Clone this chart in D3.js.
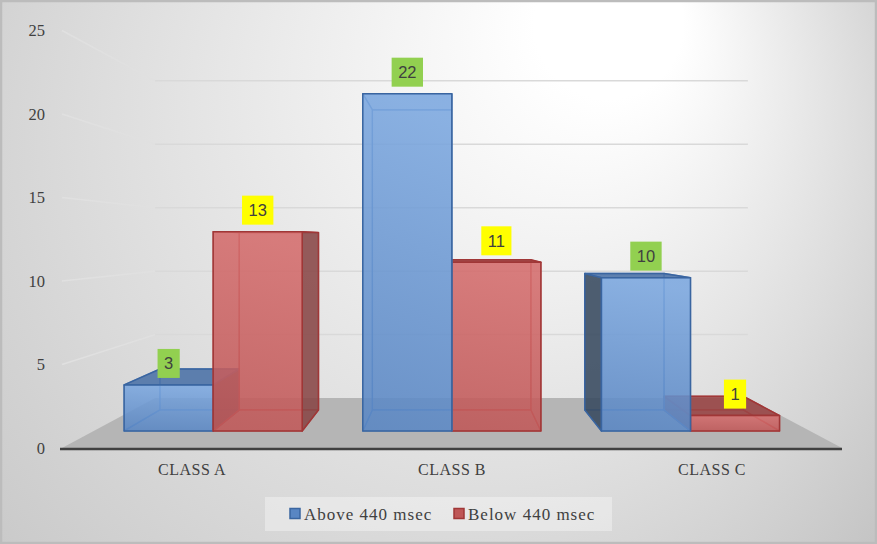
<!DOCTYPE html>
<html>
<head>
<meta charset="utf-8">
<script src="https://cdn.jsdelivr.net/npm/d3@7"></script>
<style>
  body { margin: 0; padding: 0; overflow: hidden; }
  #chart svg { display: block; }
</style>
</head>
<body>
<div id="chart"></div>
<script>
// chart data
const categories = ["CLASS A", "CLASS B", "CLASS C"];
const seriesNames = ["Above 440 msec", "Below 440 msec"];
const aboveValues = [3, 22, 10];
const belowValues = [13, 11, 1];
const yTicks = [0, 5, 10, 15, 20, 25];

const width = 877, height = 544;

// 3d look: vanishing point + depth factor
const VX = 450, VY = 240, K = 0.316;
const Z_FRONT = 0.283, Z_BACK = 0.709, Z_WALL = 1;

const project = (x, y, z) => {
  const s = 1 / (1 + K * z);
  return [VX + (x - VX) * s, VY + (y - VY) * s];
};

const svg = d3.select("#chart").append("svg")
  .attr("width", width)
  .attr("height", height);

const defs = svg.append("defs");

// background gradient
const bg = defs.append("radialGradient")
  .attr("id", "bgGrad")
  .attr("gradientUnits", "userSpaceOnUse")
  .attr("cx", 380).attr("cy", 200).attr("r", 620)
  .attr("fx", 640).attr("fy", 0);
bg.append("stop").attr("offset", 0).attr("stop-color", "#ffffff");
bg.append("stop").attr("offset", 0.12).attr("stop-color", "#ffffff");
bg.append("stop").attr("offset", 1).attr("stop-color", "#c2c2c2");

const colors = {
  [seriesNames[0]]: {front: ["#7ba7df", "#5986c3"], top: "#4a71a6", side: "#37495f", stroke: "#3a65a0", inner: "#4b7bbb", label: "#92d050"},
  [seriesNames[1]]: {front: ["#d46c6c", "#bf5757"], top: "#984343", side: "#884545", stroke: "#a03737", inner: "#b64545", label: "#ffff00"}
};

seriesNames.forEach((s, i) => {
  const g = defs.append("linearGradient")
    .attr("id", "front" + i)
    .attr("x1", 0.2).attr("y1", 0).attr("x2", 0.1).attr("y2", 1);
  g.append("stop").attr("offset", 0).attr("stop-color", colors[s].front[0]);
  g.append("stop").attr("offset", 1).attr("stop-color", colors[s].front[1]);
});

svg.append("rect")
  .attr("x", 0).attr("y", 0)
  .attr("width", width).attr("height", height)
  .attr("fill", "url(#bgGrad)");

// scales (front plane of the floor)
const x0 = d3.scaleBand()
  .domain(categories)
  .range([62, 842]);

const x1 = d3.scaleBand()
  .domain(seriesNames)
  .range([0, x0.bandwidth()])
  .paddingOuter(0.34);

const yScale = d3.scaleLinear()
  .domain([0, 25])
  .range([448, 30.5]);

const xLeft = x0.range()[0], xRight = x0.range()[1];
const yBase = yScale(0);

// floor
const floorPts = [
  project(xLeft, yBase, 0), project(xRight, yBase, 0),
  project(xRight, yBase, Z_WALL), project(xLeft, yBase, Z_WALL)
];
svg.append("polygon")
  .attr("points", floorPts.map(p => p.join(",")).join(" "))
  .attr("fill", "#b5b5b5");

// gridlines on side wall and back wall
const grid = svg.append("g");
yTicks.filter(v => v > 0).forEach(v => {
  const y = yScale(v);
  const a = project(xLeft, y, 0), b = project(xLeft, y, Z_WALL), c = project(xRight, y, Z_WALL);
  grid.append("line")
    .attr("x1", a[0]).attr("y1", a[1]).attr("x2", b[0]).attr("y2", b[1])
    .attr("stroke", "#e0e0e0").attr("stroke-width", 1.5);
  grid.append("line")
    .attr("x1", b[0]).attr("y1", b[1]).attr("x2", c[0]).attr("y2", c[1])
    .attr("stroke", "#d9d9d9").attr("stroke-width", 1.5);
});

// axis line
svg.append("line")
  .attr("x1", 60).attr("y1", yBase + 1)
  .attr("x2", xRight).attr("y2", yBase + 1)
  .attr("stroke", "#404040").attr("stroke-width", 2.5);

// build the bars
const bars = [];
categories.forEach((c, i) => {
  [aboveValues[i], belowValues[i]].forEach((v, j) => {
    const s = seriesNames[j];
    const xl = x0(c) + x1(s), xr = xl + x1.bandwidth();
    bars.push({cat: c, series: s, idx: j, value: v, xl: xl, xr: xr, yt: yScale(v), yb: yBase});
  });
});

// paint the bars farthest from the centre first
bars.sort((a, b) => Math.abs((b.xl + b.xr) / 2 - VX) - Math.abs((a.xl + a.xr) / 2 - VX));

const pts = arr => arr.map(p => p.join(",")).join(" ");

const barLayer = svg.append("g");
bars.forEach(d => {
  const col = colors[d.series];
  const P = (x, y, z) => project(x, y, z);
  const faces = {
    front: [P(d.xl, d.yt, Z_FRONT), P(d.xr, d.yt, Z_FRONT), P(d.xr, d.yb, Z_FRONT), P(d.xl, d.yb, Z_FRONT)],
    back: [P(d.xl, d.yt, Z_BACK), P(d.xr, d.yt, Z_BACK), P(d.xr, d.yb, Z_BACK), P(d.xl, d.yb, Z_BACK)],
    top: [P(d.xl, d.yt, Z_FRONT), P(d.xr, d.yt, Z_FRONT), P(d.xr, d.yt, Z_BACK), P(d.xl, d.yt, Z_BACK)],
    bottom: [P(d.xl, d.yb, Z_FRONT), P(d.xr, d.yb, Z_FRONT), P(d.xr, d.yb, Z_BACK), P(d.xl, d.yb, Z_BACK)],
    left: [P(d.xl, d.yt, Z_FRONT), P(d.xl, d.yt, Z_BACK), P(d.xl, d.yb, Z_BACK), P(d.xl, d.yb, Z_FRONT)],
    right: [P(d.xr, d.yt, Z_FRONT), P(d.xr, d.yt, Z_BACK), P(d.xr, d.yb, Z_BACK), P(d.xr, d.yb, Z_FRONT)]
  };
  const topVisible = d.yt > VY;
  const leftVisible = d.xl > VX;
  const rightVisible = d.xr < VX;

  const g = barLayer.append("g");

  // hidden edges, seen through the transparent faces
  const hidden = ["back", "bottom"];
  if (!topVisible) hidden.push("top");
  if (!leftVisible) hidden.push("left");
  if (!rightVisible) hidden.push("right");
  hidden.forEach(f => {
    g.append("polygon")
      .attr("points", pts(faces[f]))
      .attr("fill", "none")
      .attr("stroke", col.inner)
      .attr("stroke-opacity", 0.8)
      .attr("stroke-width", 1.3)
      .attr("stroke-linejoin", "round");
  });

  const visible = [];
  if (leftVisible) visible.push(["left", col.side]);
  if (rightVisible) visible.push(["right", col.side]);
  if (topVisible) visible.push(["top", col.top]);
  visible.push(["front", "url(#front" + d.idx + ")"]);
  visible.forEach(([f, fill]) => {
    g.append("polygon")
      .attr("points", pts(faces[f]))
      .attr("fill", fill)
      .attr("fill-opacity", 0.88)
      .attr("stroke", col.stroke)
      .attr("stroke-width", 1.5)
      .attr("stroke-linejoin", "round");
  });
  d.labelX = (faces.front[0][0] + faces.front[1][0]) / 2;
  d.labelY = faces.front[0][1];
});

// data labels
const labelLayer = svg.append("g")
  .style("font-family", "'Liberation Sans', Arial, sans-serif")
  .style("font-size", "16.5px");
bars.forEach(d => {
  const g = labelLayer.append("g");
  const t = g.append("text")
    .attr("x", d.labelX)
    .attr("y", d.labelY - 7 - 14.5)
    .attr("dy", "0.35em")
    .attr("text-anchor", "middle")
    .attr("fill", "#404040")
    .text(d.value);
  const w = t.node().getComputedTextLength() + 13;
  g.insert("rect", "text")
    .attr("x", d.labelX - w / 2)
    .attr("y", d.labelY - 7 - 29)
    .attr("width", w)
    .attr("height", 29)
    .attr("fill", colors[d.series].label);
});

// axes
const serif = "'Liberation Serif', 'Times New Roman', serif";

const yAxis = svg.append("g")
  .attr("transform", "translate(45,0)")
  .call(d3.axisLeft(yScale).tickValues(yTicks).tickSize(0).tickPadding(0));
yAxis.select(".domain").remove();
yAxis.selectAll("text")
  .attr("fill", "#404040")
  .style("font-family", serif)
  .style("font-size", "16.5px");

const xAxis = svg.append("g")
  .attr("transform", `translate(0,${yBase + 1})`)
  .call(d3.axisBottom(x0).tickSize(0).tickPadding(15));
xAxis.select(".domain").remove();
xAxis.selectAll("text")
  .attr("fill", "#404040")
  .style("font-family", serif)
  .style("font-size", "16px")
  .style("letter-spacing", "0.5px");

// legend
const legend = svg.append("g");
legend.append("rect")
  .attr("x", 265).attr("y", 497)
  .attr("width", 347).attr("height", 34)
  .attr("fill", "#ffffff").attr("fill-opacity", 0.35);

const legendX = [290, 454];
seriesNames.forEach((s, i) => {
  legend.append("rect")
    .attr("x", legendX[i]).attr("y", 508.5)
    .attr("width", 10).attr("height", 10)
    .attr("fill", colors[s].front[1])
    .attr("stroke", colors[s].stroke)
    .attr("stroke-width", 1.5);
  legend.append("text")
    .attr("x", legendX[i] + 14)
    .attr("y", 520)
    .attr("fill", "#404040")
    .style("font-family", serif)
    .style("font-size", "17px")
    .style("letter-spacing", "1px")
    .text(s);
});

// chart border
svg.append("rect")
  .attr("x", 1).attr("y", 1)
  .attr("width", width - 2).attr("height", height - 2)
  .attr("fill", "none")
  .attr("stroke", "#bcbcbc")
  .attr("stroke-width", 2.5);
</script>
</body>
</html>
